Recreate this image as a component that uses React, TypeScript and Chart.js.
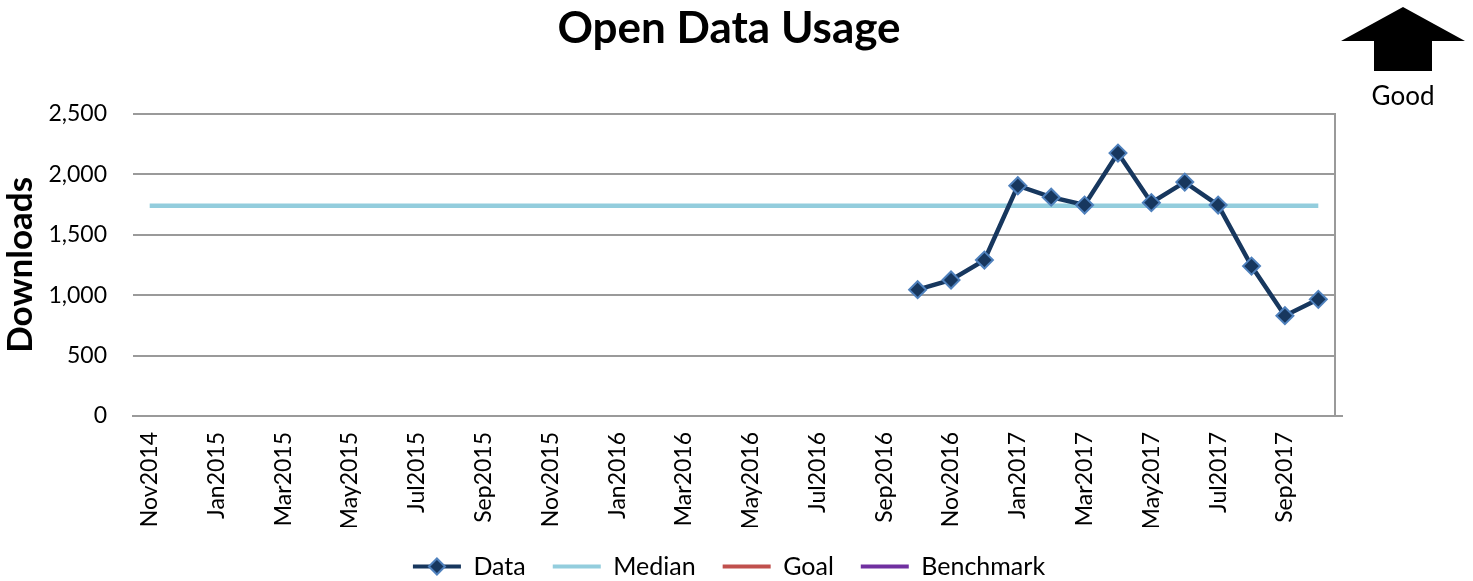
import React, { useEffect, useRef } from "react";
import { Chart, registerables } from "chart.js";

Chart.register(...registerables);

const FONT = "Lato, 'Open Sans', sans-serif";

const months: string[] = [
  "Nov2014", "Dec2014",
  "Jan2015", "Feb2015", "Mar2015", "Apr2015", "May2015", "Jun2015",
  "Jul2015", "Aug2015", "Sep2015", "Oct2015", "Nov2015", "Dec2015",
  "Jan2016", "Feb2016", "Mar2016", "Apr2016", "May2016", "Jun2016",
  "Jul2016", "Aug2016", "Sep2016", "Oct2016", "Nov2016", "Dec2016",
  "Jan2017", "Feb2017", "Mar2017", "Apr2017", "May2017", "Jun2017",
  "Jul2017", "Aug2017", "Sep2017", "Oct2017",
];

const dataValues: (number | null)[] = [
  null, null, null, null, null, null, null, null, null, null, null, null,
  null, null, null, null, null, null, null, null, null, null, null,
  1045, 1125, 1290, 1905, 1810, 1745, 2175, 1765, 1935, 1745, 1240, 830, 965,
];

const medianValues: number[] = [
  1740, 1740, 1740, 1740, 1740, 1740, 1740, 1740, 1740, 1740, 1740, 1740,
  1740, 1740, 1740, 1740, 1740, 1740, 1740, 1740, 1740, 1740, 1740, 1740,
  1740, 1740, 1740, 1740, 1740, 1740, 1740, 1740, 1740, 1740, 1740, 1740,
];

const goalValues: (number | null)[] = [];
const benchmarkValues: (number | null)[] = [];

const yTicks = { min: 0, max: 2500, step: 500 };

const DATA_LINE = "#17375E";
const DATA_EDGE = "#4F81BD";
const MEDIAN_COLOR = "#93CDDD";
const GOAL_COLOR = "#C0504D";
const BENCH_COLOR = "#7030A0";
const GRID = "#9a9a9a";
const SERIES_COLORS = [DATA_LINE, MEDIAN_COLOR, GOAL_COLOR, BENCH_COLOR];

const arrowPlugin = {
  id: "goodArrow",
  afterDraw(chart: any) {
    const ctx = chart.ctx;
    ctx.save();
    ctx.fillStyle = "#000";
    ctx.beginPath();
    ctx.moveTo(1341, 41);
    ctx.lineTo(1403, 7);
    ctx.lineTo(1465, 41);
    ctx.lineTo(1432, 41);
    ctx.lineTo(1432, 71);
    ctx.lineTo(1374, 71);
    ctx.lineTo(1374, 41);
    ctx.closePath();
    ctx.fill();
    ctx.font = `26px ${FONT}`;
    ctx.textAlign = "center";
    ctx.textBaseline = "middle";
    ctx.fillText("Good", 1403, 97);
    ctx.restore();
  },
};

const axisExtensionPlugin = {
  id: "axisExtension",
  afterDraw(chart: any) {
    const { ctx, chartArea } = chart;
    ctx.save();
    ctx.strokeStyle = GRID;
    ctx.lineWidth = 2;
    ctx.beginPath();
    ctx.moveTo(chartArea.right, chartArea.bottom);
    ctx.lineTo(chartArea.right + 8, chartArea.bottom);
    ctx.stroke();
    ctx.restore();
  },
};

const legendMarkerPlugin = {
  id: "legendMarker",
  afterDraw(chart: any) {
    const legend = chart.legend;
    if (!legend || !legend.legendHitBoxes || !legend.legendHitBoxes.length) return;
    const box = legend.legendHitBoxes[0];
    const boxW = legend.options.labels.pointStyleWidth || 40;
    const cx = box.left + boxW / 2;
    const cy = box.top + box.height / 2;
    const ctx = chart.ctx;
    ctx.save();
    ctx.beginPath();
    const r = 8;
    ctx.moveTo(cx, cy - r);
    ctx.lineTo(cx + r, cy);
    ctx.lineTo(cx, cy + r);
    ctx.lineTo(cx - r, cy);
    ctx.closePath();
    ctx.fillStyle = DATA_LINE;
    ctx.fill();
    ctx.lineWidth = 2;
    ctx.strokeStyle = DATA_EDGE;
    ctx.stroke();
    ctx.restore();
  },
};

export default function App() {
  const ref = useRef<HTMLCanvasElement | null>(null);

  useEffect(() => {
    if (!ref.current) return;
    const chart = new Chart(ref.current, {
      type: "line",
      data: {
        labels: months,
        datasets: [
          {
            label: "Data",
            data: dataValues,
            borderColor: DATA_LINE,
            backgroundColor: DATA_LINE,
            borderWidth: 4.5,
            pointStyle: "rectRot",
            pointRadius: 8.5,
            pointBackgroundColor: DATA_LINE,
            pointBorderColor: DATA_EDGE,
            pointBorderWidth: 2,
            spanGaps: false,
            order: 0,
          },
          {
            label: "Median",
            data: medianValues,
            borderColor: MEDIAN_COLOR,
            backgroundColor: MEDIAN_COLOR,
            borderWidth: 4.5,
            pointRadius: 0,
            order: 1,
          },
          {
            label: "Goal",
            data: goalValues,
            borderColor: GOAL_COLOR,
            backgroundColor: GOAL_COLOR,
            borderWidth: 4.5,
            pointRadius: 0,
            order: 2,
          },
          {
            label: "Benchmark",
            data: benchmarkValues,
            borderColor: BENCH_COLOR,
            backgroundColor: BENCH_COLOR,
            borderWidth: 4.5,
            pointRadius: 0,
            order: 3,
          },
        ],
      },
      options: {
        responsive: false,
        animation: false,
        layout: { padding: { left: 0, right: 15, top: 0, bottom: -8 } },
        plugins: {
          title: {
            display: true,
            text: "Open Data Usage",
            color: "#000",
            font: { family: FONT, size: 44, weight: "bold" },
            padding: { top: 2, bottom: 59 },
          },
          legend: {
            display: true,
            position: "bottom",
            padding: 0,
            labels: {
              color: "#000",
              font: { family: FONT, size: 25 },
              usePointStyle: true,
              pointStyleWidth: 48,
              padding: 27,
              generateLabels(chart: any) {
                const items = Chart.defaults.plugins.legend.labels.generateLabels(chart);
                return items.map((it: any, i: number) => ({
                  ...it,
                  pointStyle: "line",
                  lineWidth: 4,
                  strokeStyle: SERIES_COLORS[i],
                  fillStyle: SERIES_COLORS[i],
                }));
              },
            },
          },
          tooltip: { enabled: false },
        },
        scales: {
          x: {
            type: "category",
            offset: true,
            grid: { display: false, drawTicks: false },
            border: { display: true, color: GRID, width: 2 },
            ticks: {
              autoSkip: false,
              minRotation: 90,
              maxRotation: 90,
              padding: 16,
              color: "#000",
              font: { family: FONT, size: 23 },
              callback(_v: any, i: number) {
                return i % 2 === 0 ? months[i] : "";
              },
            },
            afterFit(scale: any) {
              scale.height = 111;
            },
          },
          y: {
            min: yTicks.min,
            max: yTicks.max,
            grid: { color: GRID, lineWidth: 2, drawTicks: false },
            border: { display: false },
            ticks: {
              stepSize: yTicks.step,
              padding: 26,
              color: "#000",
              font: { family: FONT, size: 23 },
              callback(v: any) {
                return Number(v).toLocaleString("en-US");
              },
            },
            title: {
              display: true,
              text: "Downloads",
              color: "#000",
              font: { family: FONT, size: 35, weight: "bold" },
              padding: { top: 0, bottom: 0 },
            },
            afterFit(scale: any) {
              scale.width = 133;
            },
          },
          y2: {
            position: "right",
            min: yTicks.min,
            max: yTicks.max,
            grid: { drawOnChartArea: false, drawTicks: false },
            border: { display: true, color: GRID, width: 2 },
            ticks: { display: false },
            afterFit(scale: any) {
              scale.width = 123;
            },
          },
        },
      },
      plugins: [arrowPlugin, axisExtensionPlugin, legendMarkerPlugin],
    } as any);
    return () => chart.destroy();
  }, []);

  return (
    <canvas
      ref={ref}
      width={1473}
      height={581}
      style={{ position: "fixed", left: 0, top: 0, width: 1473, height: 581 }}
    />
  );
}
